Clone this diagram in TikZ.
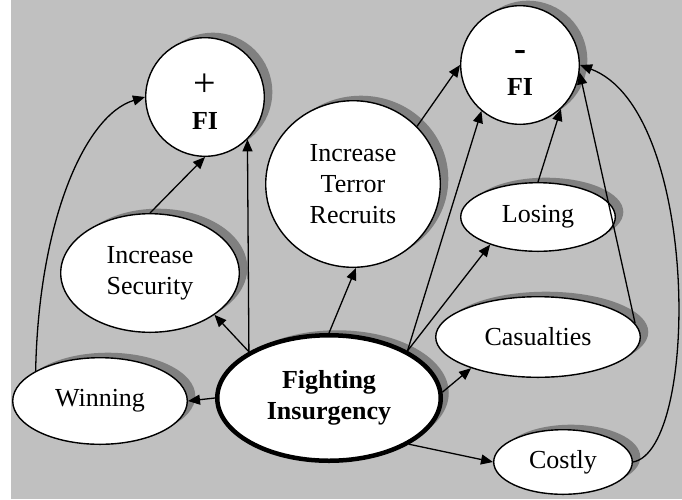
\documentclass[tikz,border=0pt]{standalone}
\usepackage{fontspec}
\setmainfont{Liberation Serif}
\usetikzlibrary{shapes.geometric,arrows.meta,shadows}
\definecolor{bggray}{RGB}{192,192,192}
\definecolor{shgray}{RGB}{128,128,128}
\begin{document}
\begin{tikzpicture}[x=1pt,y=-1pt,
  bubble/.style={ellipse,draw=black,line width=1.4pt,fill=white,inner sep=0pt,align=center,
    font=\fontsize{26}{31}\selectfont,
    drop shadow={shadow xshift=8pt,shadow yshift=5pt,fill=shgray,opacity=1}},
  fitext/.style={font=\fontsize{26}{31}\selectfont,align=center,inner sep=0pt},
  link/.style={line width=1.3pt,-{Triangle[length=12pt,width=10pt]}}]
\useasboundingbox (0,0) rectangle (682,499);
\fill[white] (0,0) rectangle (682,499);
\fill[bggray] (11,0) rectangle (682,499);

\node[bubble,minimum width=118.6pt,minimum height=118.6pt,
  label={[fitext,yshift=-5pt]center:{{\fontsize{40}{40}\selectfont +}\\[2pt]\textbf{FI}}}] (pfi) at (205,97) {};
\node[bubble,minimum width=118.6pt,minimum height=118.6pt,
  label={[fitext,yshift=-8pt]center:{{\fontsize{36}{36}\selectfont\bfseries -}\\[4pt]\textbf{FI}}}] (mfi) at (520,65) {};
\node[bubble,minimum width=174.6pt,minimum height=166.6pt] (itr) at (353,184) {Increase\\Terror\\Recruits};
\node[bubble,minimum width=178.6pt,minimum height=118.6pt] (sec) at (150,273) {Increase\\Security};
\node[bubble,minimum width=174.6pt,minimum height=86.6pt] (win) at (100,401) {Winning};
\node[bubble,line width=4.5pt,minimum width=223.5pt,minimum height=125.5pt] (fight) at (329,398) {\textbf{Fighting}\\\textbf{Insurgency}};
\node[bubble,minimum width=154.6pt,minimum height=68.6pt] (los) at (538,217) {Losing};
\node[bubble,minimum width=204.6pt,minimum height=80.6pt] (cas) at (538,337) {Casualties};
\node[bubble,minimum width=138.6pt,minimum height=64.6pt] (cost) at (563,462) {Costly};

\draw[link] (fight.150) -- (sec.-33);
\draw[link] (fight.150) -- (pfi.-45);
\draw[link] (sec.north) -- (pfi.south);
\draw[link] (win.155) .. controls +(3,-150) and +(-60,18) .. (pfi.west);
\draw[link] (fight.west) -- (win.east);
\draw[link] (fight.north) -- (itr.-88);
\draw[link] (itr.42) -- (mfi.west);
\draw[link] (fight.31) -- (mfi.-130);
\draw[link] (fight.31) -- (los.-150);
\draw[link] (los.north) -- (mfi.-47);
\draw[link] (fight.3) -- (cas.-155);
\draw[link] (cas.8) -- (mfi.-7);
\draw[link] (fight.-30) -- (cost.west);
\draw[link] (cost.east) .. controls +(67,-12) and +(120,45) .. (mfi.east);
\end{tikzpicture}
\end{document}
